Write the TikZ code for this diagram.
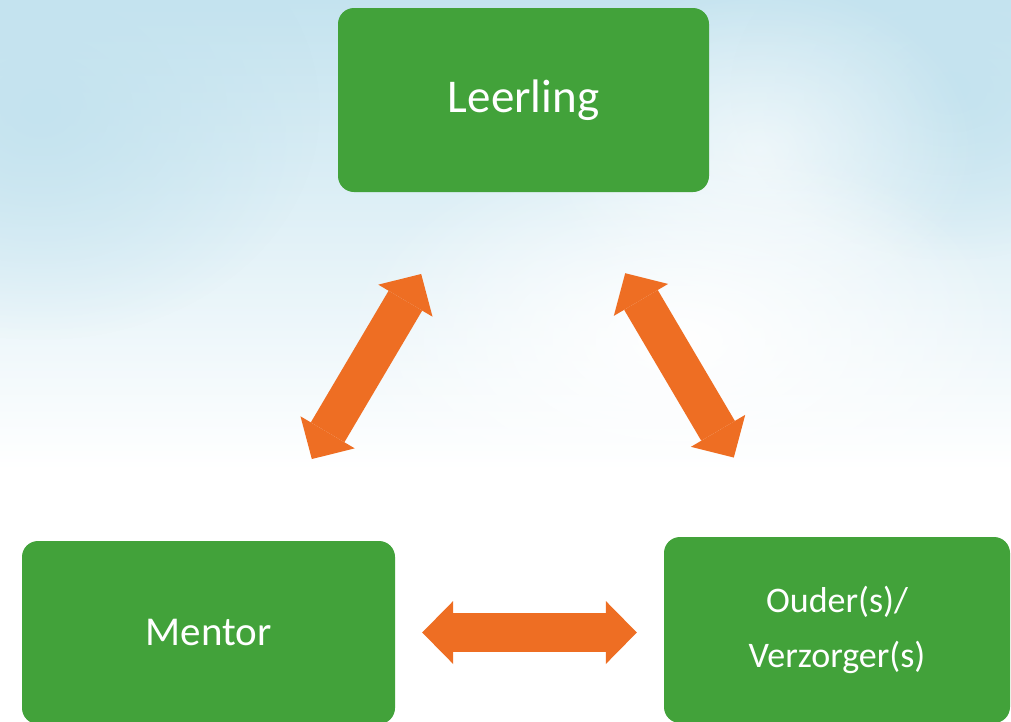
\documentclass[tikz,border=0pt]{standalone}
\usepackage{fontspec}
\setmainfont{Carlito}
\usepackage{xcolor}
\usepackage{tikz}
\usetikzlibrary{arrows.meta}
\usetikzlibrary{fadings}
\definecolor{boxgreen}{RGB}{66,162,58}
\definecolor{arroworange}{RGB}{238,110,35}
\definecolor{skytop}{RGB}{196,227,239}
\definecolor{skymid}{RGB}{226,241,247}
\tikzfading[name=soft out,inner color=transparent!0,outer color=transparent!100]
\tikzset{
box/.style={
  rectangle,
  rounded corners=16pt,
  fill=boxgreen,
  text=white,
  align=center,
  inner sep=0pt
},
link/.style={
  draw=arroworange,
  line width=39pt,
  {Triangle[length=31pt,width=63pt,line width=0pt]}-{Triangle[length=31pt,width=63pt,line width=0pt]}
},
}

\begin{document}
\begin{tikzpicture}[x=1pt,y=-1pt]
\useasboundingbox (0,0) rectangle (1011,721);
% the sky
\fill[white] (0,0) rectangle (1011,721);
\shade[top color=skytop,middle color=skymid,bottom color=white] (0,0) rectangle (1011,470);
\fill[skytop,path fading=soft out] (40,110) ellipse (280 and 230);
\fill[skytop,path fading=soft out] (950,90) ellipse (220 and 170);
\fill[white,opacity=0.6,path fading=soft out] (760,150) ellipse (220 and 170);
\fill[white,path fading=soft out] (680,340) ellipse (340 and 200);
% the boxes
\node[box,minimum width=371pt,minimum height=184pt,font=\fontsize{47}{56}\selectfont] (leer) at (523.5,100) {Leerling};
\node[box,minimum width=373pt,minimum height=183pt,font=\fontsize{41}{50}\selectfont] (mentor) at (208.5,632.5) {Mentor};
\node[box,minimum width=346pt,minimum height=186pt,font=\fontsize{36}{55}\selectfont] (ouder) at (837,630) {Ouder(s)/\\Verzorger(s)};
% the arrows
\draw[link,shorten <=95pt,shorten >=95pt] ([xshift=-54pt]leer.south) -- ([xshift=55pt]mentor.north);
\draw[link,shorten <=94pt,shorten >=92pt] ([xshift=54pt]leer.south) -- ([xshift=-56.5pt]ouder.north);
\draw[link,shorten <=27pt,shorten >=27pt] (mentor.east) -- (mentor.east -| ouder.west);
\end{tikzpicture}
\end{document}
